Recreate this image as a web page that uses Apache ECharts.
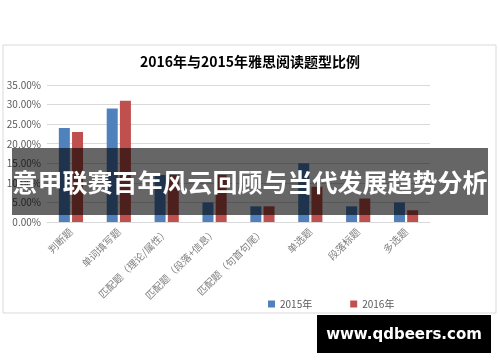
<!DOCTYPE html>
<html>
<head>
<meta charset="utf-8">
<script src="https://cdn.jsdelivr.net/npm/echarts@6/dist/echarts.min.js"></script>
<style>html,body{margin:0;padding:0;background:#fff}#c{width:500px;height:362px}</style>
</head>
<body>
<div id="c"></div>
<script>
var categories = ['判断题', '单词填写题', '匹配题（理论/属性）', '匹配题（段落+信息）', '匹配题（句首句尾）', '单选题', '段落标题', '多选题'];
var values2015 = [24, 29, 12, 5, 4, 15, 4, 5];
var values2016 = [23, 31, 12, 12, 4, 9, 6, 3];
var seriesNames = ['2015年', '2016年'];
var titleText = '2016年与2015年雅思阅读题型比例';
var bannerText = '意甲联赛百年风云回顾与当代发展趋势分析';
var siteText = 'www.qdbeers.com';

var font = '"Noto Sans CJK SC", "Noto Sans", sans-serif';
var chart = echarts.init(document.getElementById('c'));
chart.setOption({
  animation: false,
  textStyle: { fontFamily: font },
  title: {
    text: titleText, left: 'center', top: 50,
    textStyle: { fontSize: 14, fontWeight: 'bold', color: '#000', fontFamily: font }
  },
  legend: {
    data: seriesNames, left: 263, top: 294, itemWidth: 7, itemHeight: 7, itemGap: 38,
    icon: 'rect',
    textStyle: { fontSize: 10, color: '#595959', fontFamily: font }
  },
  grid: { left: 47, right: 70, top: 85, bottom: 140 },
  xAxis: {
    type: 'category', data: categories,
    axisLine: { lineStyle: { color: '#d9d9d9' } },
    axisTick: { show: false },
    axisLabel: { rotate: 45, interval: 0, fontSize: 10, color: '#7f7f7f', margin: 8 }
  },
  yAxis: {
    type: 'value', min: 0, max: 35, interval: 5,
    axisLine: { show: false }, axisTick: { show: false },
    splitLine: { lineStyle: { color: '#d9d9d9' } },
    axisLabel: { fontSize: 10, color: '#595959', margin: 6, formatter: function (v) { return v.toFixed(2) + '%'; } }
  },
  series: [
    { name: seriesNames[0], type: 'bar', data: values2015, barWidth: 11, barGap: '20%', itemStyle: { color: '#4f81bd' } },
    { name: seriesNames[1], type: 'bar', data: values2016, barWidth: 11, barGap: '20%', itemStyle: { color: '#c0504d' } }
  ],
  graphic: [
    { type: 'rect', shape: { x: 3, y: 45, width: 493, height: 268 }, style: { fill: 'none', stroke: '#d9d9d9', lineWidth: 1 }, z: 0, silent: true },
    { type: 'rect', shape: { x: 12, y: 148, width: 476, height: 67 }, style: { fill: 'rgba(0,0,0,0.6)' }, z: 100 },
    { type: 'text', x: 250, y: 182, z: 101, style: { text: bannerText, fill: '#fff', font: 'bold 25px ' + font, textAlign: 'center', textVerticalAlign: 'middle' } },
    { type: 'rect', shape: { x: 317, y: 315, width: 174, height: 38 }, style: { fill: '#000' }, z: 100 },
    { type: 'text', x: 404, y: 335, z: 101, style: { text: siteText, fill: '#fff', font: 'bold 15px "DejaVu Sans", sans-serif', textAlign: 'center', textVerticalAlign: 'middle' } }
  ]
});
</script>
</body>
</html>
